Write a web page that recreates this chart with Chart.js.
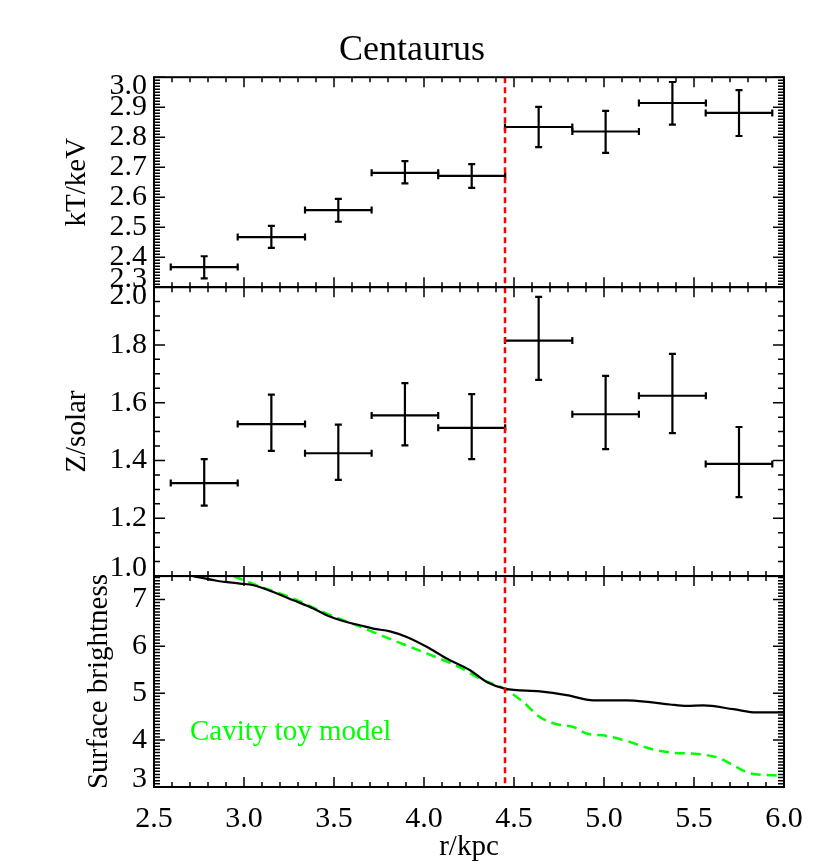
<!DOCTYPE html>
<html>
<head>
<meta charset="utf-8">
<title>Centaurus</title>
<script src="https://cdn.jsdelivr.net/npm/chart.js@4/dist/chart.umd.min.js"></script>
<style>
  html, body { margin: 0; padding: 0; background: #fff; }
  #chart { display: block; }
</style>
</head>
<body>
<canvas id="chart" width="830" height="865"></canvas>
<script>
// radial bins (kpc): centre and half width
const rCenter = [2.779, 3.152, 3.524, 3.894, 4.265, 4.637, 5.009, 5.380, 5.750];
const rHalf = [0.186, 0.187, 0.185, 0.185, 0.186, 0.187, 0.185, 0.186, 0.185];

// temperature, keV
const kT = [2.367, 2.467, 2.557, 2.681, 2.671, 2.834, 2.819, 2.914, 2.881];
const kTLow = [2.329, 2.431, 2.518, 2.646, 2.631, 2.767, 2.748, 2.842, 2.804];
const kTHigh = [2.403, 2.504, 2.594, 2.720, 2.710, 2.901, 2.888, 2.984, 2.957];

// metallicity, solar
const metal = [1.322, 1.526, 1.425, 1.556, 1.513, 1.815, 1.560, 1.624, 1.388];
const metalLow = [1.244, 1.433, 1.333, 1.452, 1.405, 1.679, 1.439, 1.495, 1.273];
const metalHigh = [1.405, 1.628, 1.524, 1.668, 1.630, 1.966, 1.693, 1.769, 1.516];

// surface brightness profile
const sbR = [2.718, 2.848, 2.978, 3.052, 3.163, 3.274, 3.385, 3.459, 3.570, 3.644,
  3.718, 3.811, 3.904, 4.015, 4.126, 4.256, 4.348, 4.450, 4.644, 4.792,
  4.941, 5.126, 5.256, 5.367, 5.459, 5.552, 5.719, 5.848, 5.996];
const sbData = [7.50, 7.40, 7.34, 7.305, 7.16, 6.985, 6.81, 6.665, 6.52, 6.45,
  6.38, 6.32, 6.20, 5.99, 5.74, 5.49, 5.24, 5.10, 5.04, 4.96,
  4.85, 4.85, 4.81, 4.76, 4.73, 4.74, 4.66, 4.59, 4.59];

// cavity toy model
const modelR = [2.941, 3.052, 3.274, 3.459, 3.644, 3.830, 4.015, 4.200, 4.311, 4.450,
  4.552, 4.644, 4.737, 4.830, 4.904, 5.015, 5.126, 5.274, 5.385, 5.533,
  5.644, 5.719, 5.811, 5.941, 5.996];
const modelSB = [7.50, 7.33, 7.02, 6.70, 6.42, 6.13, 5.85, 5.55, 5.31, 5.09,
  4.81, 4.49, 4.34, 4.28, 4.14, 4.09, 3.98, 3.80, 3.73, 3.70,
  3.61, 3.46, 3.29, 3.25, 3.23];

const cavityR = 4.45;

// tick labels
const xTicks = [2.5, 3.0, 3.5, 4.0, 4.5, 5.0, 5.5, 6.0];
const kTTicks = [2.3, 2.4, 2.5, 2.6, 2.7, 2.8, 2.9, 3.0];
const metalTicks = [1.0, 1.2, 1.4, 1.6, 1.8, 2.0];
const sbTicks = [3, 4, 5, 6, 7];

const FONT = "'Liberation Serif', 'Times New Roman', serif";
const TICK_SIZE = 30;
const LABEL_SIZE = 29;
Chart.defaults.font.family = FONT;
Chart.defaults.color = '#000';

function toPoints(xs, ys) {
  return xs.map((x, i) => ({ x: x, y: ys[i] }));
}

function fixedTicks(values) {
  return (scale) => {
    scale.ticks = values.map((v) => ({ value: v }));
  };
}

const panels = [
  { id: 'y1', ticks: kTTicks, minor: 10, digits: 1 },
  { id: 'y2', ticks: metalTicks, minor: 4, digits: 1 },
  { id: 'y3', ticks: sbTicks, minor: 15, digits: 0 }
];

function yAxis(min, max, title, weight, stackWeight, titlePad, ticks) {
  return {
    type: 'linear',
    position: 'left',
    stack: 'panels',
    stackWeight: stackWeight,
    weight: weight,
    min: min,
    max: max,
    grid: { display: false },
    border: { display: false },
    ticks: { display: false },
    afterBuildTicks: fixedTicks(ticks),
    afterFit: (s) => { s.width = 114; },
    title: {
      display: true,
      text: title,
      color: '#000',
      font: { size: LABEL_SIZE, lineHeight: 1.2 },
      padding: { top: titlePad, bottom: 0 }
    }
  };
}

// error bars with end caps
const errorBars = {
  id: 'errorBars',
  afterDatasetsDraw(chart) {
    const ctx = chart.ctx;
    const x = chart.scales.x;
    const sets = [
      { scale: chart.scales.y1, v: kT, lo: kTLow, hi: kTHigh },
      { scale: chart.scales.y2, v: metal, lo: metalLow, hi: metalHigh }
    ];
    const cap = 3.5;
    ctx.save();
    ctx.strokeStyle = '#000';
    ctx.lineWidth = 2.2;
    sets.forEach((s) => {
      rCenter.forEach((r, i) => {
        const x0 = x.getPixelForValue(r - rHalf[i]);
        const x1 = x.getPixelForValue(r + rHalf[i]);
        const xc = x.getPixelForValue(r);
        const yc = s.scale.getPixelForValue(s.v[i]);
        const y0 = s.scale.getPixelForValue(s.lo[i]);
        const y1 = s.scale.getPixelForValue(s.hi[i]);
        ctx.beginPath();
        ctx.moveTo(x0, yc); ctx.lineTo(x1, yc);
        ctx.moveTo(x0, yc - cap); ctx.lineTo(x0, yc + cap);
        ctx.moveTo(x1, yc - cap); ctx.lineTo(x1, yc + cap);
        ctx.moveTo(xc, y0); ctx.lineTo(xc, y1);
        ctx.moveTo(xc - cap, y0); ctx.lineTo(xc + cap, y0);
        ctx.moveTo(xc - cap, y1); ctx.lineTo(xc + cap, y1);
        ctx.stroke();
      });
    });
    ctx.restore();
  }
};

// IDL-style frames, inward ticks, y labels, marker line and note
const frames = {
  id: 'frames',
  afterDraw(chart) {
    const ctx = chart.ctx;
    const x = chart.scales.x;
    const area = chart.chartArea;
    ctx.save();

    // cavity edge
    const xr = x.getPixelForValue(cavityR);
    ctx.strokeStyle = '#ff0000';
    ctx.lineWidth = 2.5;
    ctx.setLineDash([6, 4]);
    ctx.beginPath();
    ctx.moveTo(xr, area.top);
    ctx.lineTo(xr, area.bottom);
    ctx.stroke();
    ctx.setLineDash([]);

    // note
    const y3 = chart.scales.y3;
    ctx.fillStyle = '#00ff00';
    ctx.font = LABEL_SIZE + 'px ' + FONT;
    ctx.textAlign = 'left';
    ctx.textBaseline = 'alphabetic';
    ctx.fillText('Cavity toy model', x.getPixelForValue(2.7), y3.getPixelForValue(4.0));

    ctx.strokeStyle = '#000';
    ctx.fillStyle = '#000';
    panels.forEach((p) => {
      const s = chart.scales[p.id];
      const top = s.top;
      const bottom = s.bottom;

      // x ticks along top and bottom of the panel
      ctx.lineWidth = 1.5;
      ctx.beginPath();
      for (let i = 0; i <= 35; i++) {
        const v = 2.5 + i * 0.1;
        const px = x.getPixelForValue(v);
        const len = i % 5 === 0 ? 10 : 5;
        ctx.moveTo(px, bottom); ctx.lineTo(px, bottom - len);
        ctx.moveTo(px, top); ctx.lineTo(px, top + len);
      }
      // y ticks on both sides
      const major = p.ticks[1] - p.ticks[0];
      const step = major / p.minor;
      const n = Math.floor((s.max - s.min) / step + 1e-6);
      for (let i = 0; i <= n; i++) {
        const v = s.min + i * step;
        const py = s.getPixelForValue(v);
        const isMajor = p.ticks.some((t) => Math.abs(t - v) < step / 2);
        const len = isMajor ? 11 : 6;
        ctx.moveTo(area.left, py); ctx.lineTo(area.left + len, py);
        ctx.moveTo(area.right, py); ctx.lineTo(area.right - len, py);
      }
      ctx.stroke();

      // frame
      ctx.lineWidth = 2;
      ctx.strokeRect(area.left, top, area.right - area.left, bottom - top);

      // tick labels, kept inside the panel at its edges
      ctx.font = TICK_SIZE + 'px ' + FONT;
      ctx.textAlign = 'right';
      ctx.textBaseline = 'middle';
      p.ticks.forEach((t) => {
        let py = s.getPixelForValue(t);
        py = Math.min(Math.max(py, top + 9), bottom - 8);
        ctx.fillText(t.toFixed(p.digits), area.left - 7, py);
      });
    });
    ctx.restore();
  }
};

new Chart(document.getElementById('chart'), {
  type: 'scatter',
  data: {
    datasets: [
      {
        label: 'kT',
        data: toPoints(rCenter, kT),
        yAxisID: 'y1',
        pointRadius: 0
      },
      {
        label: 'Z',
        data: toPoints(rCenter, metal),
        yAxisID: 'y2',
        pointRadius: 0
      },
      {
        label: 'Surface brightness',
        data: toPoints(sbR, sbData),
        yAxisID: 'y3',
        showLine: true,
        borderColor: '#000',
        borderWidth: 2.2,
        pointRadius: 0,
        cubicInterpolationMode: 'monotone'
      },
      {
        label: 'Cavity toy model',
        data: toPoints(modelR, modelSB),
        yAxisID: 'y3',
        showLine: true,
        borderColor: '#00ff00',
        borderWidth: 2.5,
        borderDash: [10, 6],
        pointRadius: 0,
        cubicInterpolationMode: 'monotone'
      }
    ]
  },
  options: {
    responsive: false,
    animation: false,
    devicePixelRatio: 1,
    layout: { padding: { left: 40, right: 46, top: 0, bottom: 0 } },
    plugins: {
      legend: { display: false },
      tooltip: { enabled: false },
      title: {
        display: true,
        text: 'Centaurus',
        color: '#000',
        font: { size: 36, weight: 'normal', lineHeight: 1.2 },
        padding: { top: 29, bottom: 5 }
      }
    },
    scales: {
      x: {
        type: 'linear',
        position: 'bottom',
        min: 2.5,
        max: 6.0,
        grid: { display: false, drawTicks: false },
        border: { display: false },
        afterBuildTicks: fixedTicks(xTicks),
        afterFit: (s) => { s.height = 78; },
        ticks: {
          autoSkip: false,
          maxRotation: 0,
          padding: 14,
          color: '#000',
          font: { size: TICK_SIZE, lineHeight: 1.2 },
          callback: (v) => Number(v).toFixed(1)
        },
        title: {
          display: true,
          text: 'r/kpc',
          color: '#000',
          font: { size: LABEL_SIZE, lineHeight: 1.2 },
          padding: { top: 0, bottom: 0 }
        }
      },
      y1: yAxis(2.3, 3.0, 'kT/keV', 3, 210, 20, kTTicks),
      y2: yAxis(1.0, 2.0, 'Z/solar', 2, 289, 20, metalTicks),
      y3: yAxis(3.0, 7.5, 'Surface brightness', 1, 211, 42, sbTicks)
    }
  },
  plugins: [errorBars, frames]
});
</script>
</body>
</html>
